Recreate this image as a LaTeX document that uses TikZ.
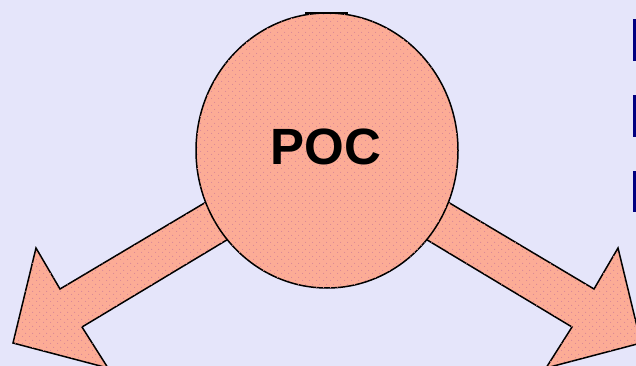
\documentclass[tikz,border=0pt]{standalone}
\usepackage{fontspec}
\setmainfont{Liberation Sans}
\usetikzlibrary{patterns}
\definecolor{bg}{RGB}{229,229,250}
\definecolor{salmon}{RGB}{252,172,150}
\definecolor{stip}{RGB}{215,135,150}
\definecolor{navy}{RGB}{0,0,128}
\pgfdeclarepatternformonly{stipple}{\pgfpointorigin}{\pgfpoint{7pt}{7pt}}{\pgfpoint{7pt}{7pt}}{%
  \pgfpathcircle{\pgfpoint{1.75pt}{1.75pt}}{0.6pt}
  \pgfpathcircle{\pgfpoint{5.25pt}{5.25pt}}{0.6pt}
  \pgfusepath{fill}}
\tikzset{
  shape fill/.style={fill=salmon, draw=black, line width=1.5pt, line join=miter,
    postaction={pattern=stipple, pattern color=stip}},
  bulletbar/.style={fill=navy, draw=none},
}
\begin{document}
\begin{tikzpicture}[x=1pt, y=-1pt]
  % background
  \fill[bg] (0,0) rectangle (636,366);
  \useasboundingbox (0,0) rectangle (636,366);

  % left arrow
  \draw[shape fill] (270,164) -- (60,289) -- (36,248) -- (13,343) -- (108,368)
    -- (82,327) -- (290,202) -- cycle;
  % right arrow (mirror of the left one)
  \draw[shape fill] (384,164) -- (594,289) -- (618,248) -- (641,343) -- (546,368)
    -- (572,327) -- (364,202) -- cycle;

  % central circle
  \draw[shape fill] (327,150.5) ellipse [x radius=131, y radius=137.5];
  \node[font=\bfseries\fontsize{51}{51}\selectfont, text=black] (poc) at (326,147) {POC};
  \draw[line width=2pt] (305,13.5) -- (348,13.5);

  % bullet marks at the right edge
  \fill[bulletbar] (633,19) rectangle (636,61);
  \fill[bulletbar] (633,95) rectangle (636,137);
  \fill[bulletbar] (633,171) rectangle (636,212);
\end{tikzpicture}
\end{document}
